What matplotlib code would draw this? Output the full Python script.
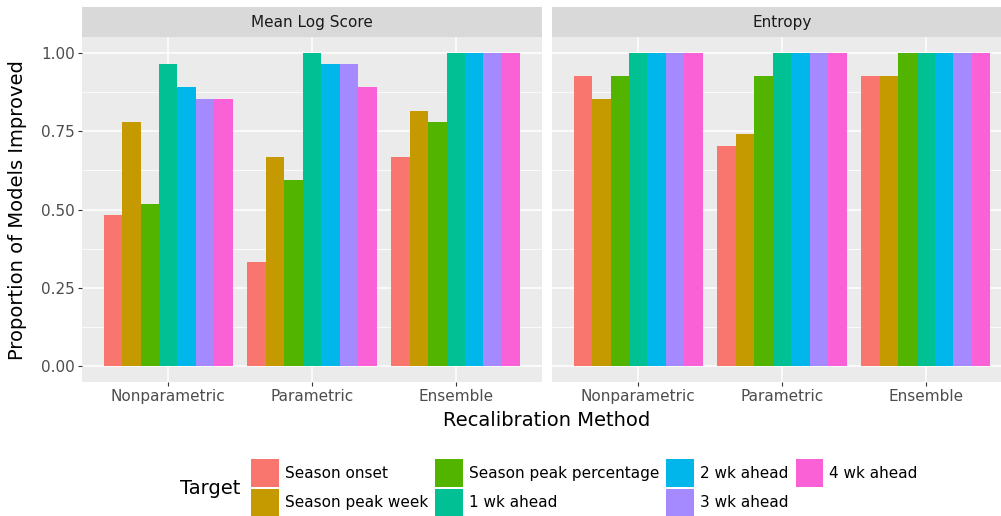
import matplotlib
matplotlib.use("Agg")
import matplotlib.pyplot as plt
import numpy as np

methods = ["Nonparametric", "Parametric", "Ensemble"]
targets = ["Season onset", "Season peak week", "Season peak percentage",
           "1 wk ahead", "2 wk ahead", "3 wk ahead", "4 wk ahead"]
colors = ["#F8766D", "#C49A00", "#53B400", "#00C094", "#00B6EB", "#A58AFF", "#FB61D7"]

# proportion improved, rows = method, columns = target
log_score = [
    [0.481, 0.778, 0.519, 0.963, 0.889, 0.852, 0.852],
    [0.333, 0.667, 0.593, 1.000, 0.963, 0.963, 0.889],
    [0.667, 0.815, 0.778, 1.000, 1.000, 1.000, 1.000],
]
entropy = [
    [0.926, 0.852, 0.926, 1.000, 1.000, 1.000, 1.000],
    [0.704, 0.741, 0.926, 1.000, 1.000, 1.000, 1.000],
    [0.926, 0.926, 1.000, 1.000, 1.000, 1.000, 1.000],
]
panels = [("Mean Log Score", log_score), ("Entropy", entropy)]

W, H = 1001, 516
fig = plt.figure(figsize=(W / 100, H / 100), dpi=100)

def px(x0, y0, x1, y1):
    # pixel box (top-left origin) -> figure fraction
    return [x0 / W, 1 - y1 / H, (x1 - x0) / W, (y1 - y0) / H]

panel_left = [82, 552]
pw = 460
xpos = np.arange(1, len(methods) + 1)
bw = 0.9 / len(targets)

for i, (title, vals) in enumerate(panels):
    x0 = panel_left[i]
    ax = fig.add_axes(px(x0, 37, x0 + pw, 382))
    ax.set_facecolor("#EBEBEB")
    vals = np.array(vals)
    for j, t in enumerate(targets):
        ax.bar(xpos - 0.45 + bw * (j + 0.5), vals[:, j], width=bw,
               color=colors[j], label=t, zorder=3)
    ax.set_xlim(0.4, 3.6)
    ax.set_ylim(-0.05, 1.05)
    ax.set_yticks([0, 0.25, 0.5, 0.75, 1.0])
    ax.set_yticks([0.125, 0.375, 0.625, 0.875], minor=True)
    ax.set_xticks(xpos)
    ax.set_xticklabels(methods)
    ax.grid(which="major", color="white", linewidth=1.1, zorder=0)
    ax.grid(which="minor", axis="y", color="white", linewidth=0.55, zorder=0)
    for s in ax.spines.values():
        s.set_visible(False)
    ax.tick_params(which="major", length=3, width=0.8, color="#333333",
                   labelcolor="#4D4D4D", labelsize=11, pad=2)
    ax.tick_params(which="minor", length=0)
    if i == 0:
        ax.set_yticklabels(["0.00", "0.25", "0.50", "0.75", "1.00"])
    else:
        ax.tick_params(axis="y", which="major", length=0, labelleft=False)

    sax = fig.add_axes(px(x0, 7, x0 + pw, 37))
    sax.set_facecolor("#D9D9D9")
    sax.set_xticks([])
    sax.set_yticks([])
    for s in sax.spines.values():
        s.set_visible(False)
    sax.text(0.5, 0.5, title, ha="center", va="center", fontsize=11,
             color="#1A1A1A", transform=sax.transAxes)
    if i == 0:
        handles, labels = ax.get_legend_handles_labels()

fig.text(18 / W, 1 - 210 / H, "Proportion of Models Improved", rotation=90,
         ha="center", va="center", fontsize=14)
fig.text(547 / W, 1 - 420 / H, "Recalibration Method", ha="center",
         va="center", fontsize=14)
fig.text(180 / W, 1 - 489 / H, "Target", ha="left", va="center", fontsize=14)

fig.legend(handles, labels, loc="center left",
           bbox_to_anchor=(251 / W, 1 - 488 / H), ncol=4, frameon=False,
           fontsize=11, handlelength=1.83, handleheight=2.44,
           labelspacing=0.1, handletextpad=0.39, columnspacing=0.45,
           borderpad=0, borderaxespad=0)

fig.savefig("out.png", dpi=100)
